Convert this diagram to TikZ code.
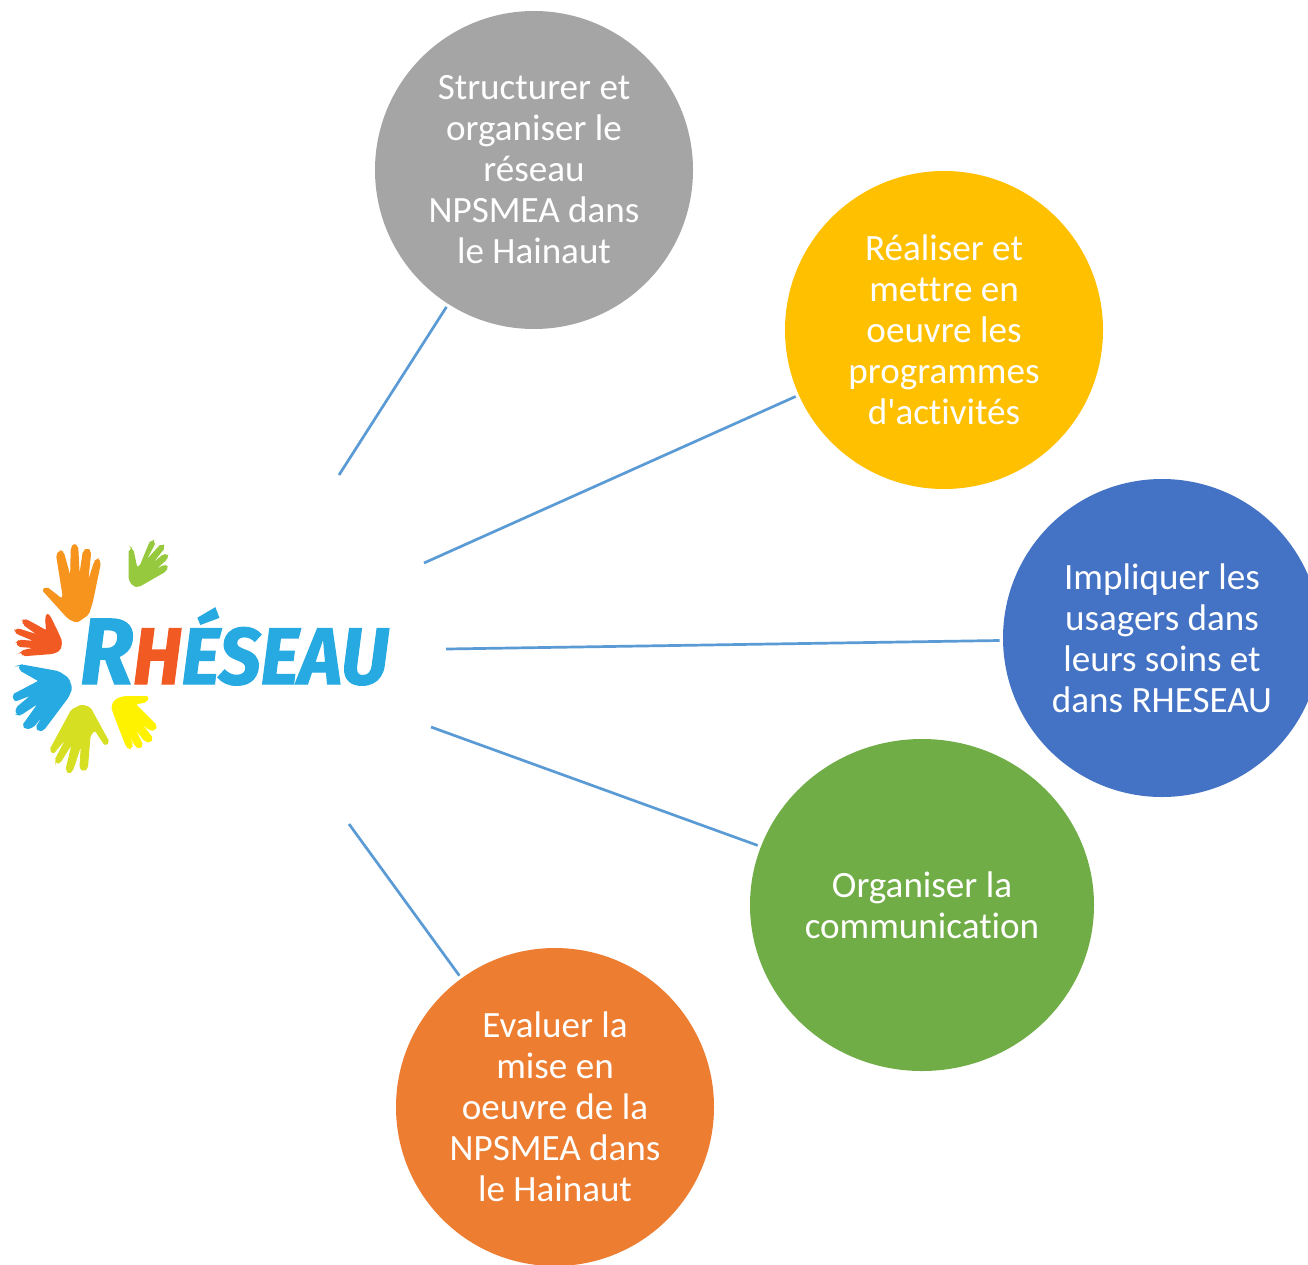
\documentclass[tikz,border=0pt]{standalone}
\usepackage{fontspec}
\setmainfont{Carlito}[Ligatures={TeXOff,CommonOff}]
\newfontfamily\logofont{Fira Sans}[UprightFont=* Bold,ItalicFont=* Bold Italic,ItalicFeatures={FakeBold=1.5}]
\usetikzlibrary{shapes.geometric}
\definecolor{cgray}{HTML}{A5A5A5}
\definecolor{cyellow}{HTML}{FFC000}
\definecolor{cblue}{HTML}{4472C4}
\definecolor{cgreen}{HTML}{70AD47}
\definecolor{corange}{HTML}{ED7D31}
\definecolor{cline}{HTML}{5B9BD5}
\definecolor{hOrange}{HTML}{F7941E}
\definecolor{hLeaf}{HTML}{96C93D}
\definecolor{hRed}{HTML}{F15A22}
\definecolor{hSky}{HTML}{27AAE1}
\definecolor{hLime}{HTML}{D7DF23}
\definecolor{hYellow}{HTML}{FFF200}
\tikzset{
  bubble/.style={circle,fill=#1,draw=none,minimum size=318pt,inner sep=0pt,outer sep=0pt,
    text=white,align=center,font=\fontsize{37.1}{41}\selectfont},
  link/.style={draw=cline,line width=2.7pt,shorten >=3.5pt},
  hand/.style={fill=#1,draw=#1,line width=1.2pt,rounded corners=2pt}
}
\begin{document}
\begin{tikzpicture}[x=1pt,y=-1pt]
\useasboundingbox (0,0) rectangle (1308,1264);
\clip (0,0) rectangle (1308,1264);
\fill[white] (0,0) rectangle (1308,1264);
% bubbles
\node[bubble=cgray] (struct) at (534,170) {Structurer et\\organiser le\\réseau\\NPSMEA dans\\le Hainaut};
\node[bubble=cyellow] (real) at (944,330) {Réaliser et\\mettre en\\oeuvre les\\programmes\\d'activités};
\node[bubble=cblue] (impl) at (1162,638) {Impliquer les\\usagers dans\\leurs soins et\\dans RHESEAU};
\node[bubble=cgreen,ellipse,minimum width=344pt,minimum height=332pt] (comm) at (922,905) {Organiser la\\communication};
\node[bubble=corange] (eval) at (555,1107) {Evaluer la\\mise en\\oeuvre de la\\NPSMEA dans\\le Hainaut};
% free ends
\coordinate (e1) at (339,475);
\coordinate (e2) at (424,563);
\coordinate (e3) at (446,649);
\coordinate (e4) at (431,727);
\coordinate (e5) at (349,824);
\draw[link] (e1) -- (struct);
\draw[link] (e2) -- (real);
\draw[link] (e3) -- (impl);
\draw[link] (e4) -- (comm);
\draw[link] (e5) -- (eval);
% logo hands, upper group
\begin{scope}[shift={(0,535)},x=0.3333pt,y=-0.3333pt]
  \draw[hand=hOrange] (128,165)--(140,157)--(185,192)--(190,185)--(170,60)--(180,47)--(190,52)--(212,132)--(214,40)--(222,27)--(233,35)--(238,132)--(250,50)--(262,40)--(272,50)--(262,148)--(285,78)--(295,72)--(301,84)--(277,200)--(265,238)--(230,262)--(205,250)--cycle;
  \draw[hand=hLeaf] (388,50)--(394,42)--(400,50)--(410,98)--(420,95)--(450,22)--(460,18)--(463,28)--(432,85)--(480,32)--(490,32)--(490,42)--(448,95)--(492,58)--(502,62)--(500,72)--(458,110)--(495,90)--(503,97)--(497,108)--(415,155)--(400,152)--(388,135)--cycle;
  \draw[hand=hRed] (142,236)--(150,245)--(172,290)--(185,320)--(180,345)--(160,355)--(70,362)--(64,352)--(72,346)--(112,338)--(55,334)--(50,323)--(58,316)--(110,320)--(50,295)--(47,287)--(55,282)--(118,302)--(70,268)--(70,256)--(80,255)--(140,288)--(137,250)--cycle;
\end{scope}
% logo hands, lower group
\begin{scope}[shift={(0,655)},x=0.3333pt,y=-0.3333pt]
  \draw[hand=hSky] (58,32)--(65,30)--(175,50)--(205,70)--(215,100)--(205,125)--(130,225)--(118,228)--(108,218)--(145,160)--(100,215)--(80,222)--(68,212)--(118,142)--(60,180)--(50,178)--(48,160)--(98,118)--(45,138)--(38,120)--(118,78)--(60,45)--cycle;
  \draw[hand=hLime] (245,150)--(270,158)--(327,262)--(315,270)--(285,225)--(270,240)--(262,340)--(250,348)--(240,340)--(245,262)--(218,345)--(208,355)--(198,345)--(218,262)--(178,325)--(168,320)--(168,310)--(205,240)--(160,295)--(150,285)--(215,165)--cycle;
  \draw[hand=hYellow] (445,125)--(440,140)--(405,147)--(470,212)--(465,225)--(450,225)--(415,195)--(458,250)--(450,262)--(435,258)--(398,210)--(428,270)--(420,280)--(408,275)--(380,222)--(398,272)--(390,280)--(380,275)--(345,185)--(335,155)--(345,135)--(370,125)--cycle;
\end{scope}
\node[anchor=base west,inner sep=0pt,xscale=0.925,font=\logofont\itshape\fontsize{80}{80}\selectfont,text=hSky] (logo) at (80,684)
  {{\fontsize{94}{94}\selectfont R}{\color{hRed}H}ÉSEAU};
\end{tikzpicture}
\end{document}
